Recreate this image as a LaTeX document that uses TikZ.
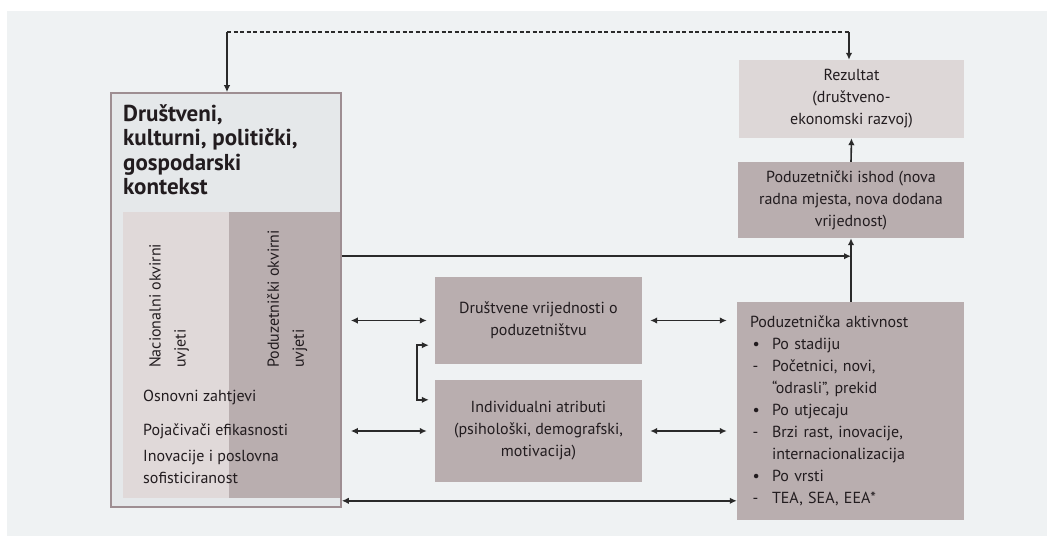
\documentclass[tikz,border=0pt]{standalone}
\usepackage{fontspec}
\setmainfont{PT Sans}
\usepackage{tikz}
\usetikzlibrary{arrows.meta,positioning,calc}
\definecolor{pozadina}{HTML}{EFF2F3}
\definecolor{kontekstboja}{HTML}{E5E8EA}
\definecolor{rub}{HTML}{9E8E92}
\definecolor{svijetla}{HTML}{E0D9D9}
\definecolor{tamna}{HTML}{B9AEAF}
\definecolor{rezultatboja}{HTML}{DDD7D7}
\definecolor{tekst}{HTML}{221C1F}
\definecolor{strelica}{HTML}{2A2A2A}

\begin{document}
\begin{tikzpicture}[x=1pt,y=-1pt,
  okvir/.style={draw=rub,line width=1.6pt,fill=kontekstboja,inner sep=0pt},
  polje/.style={inner sep=0pt,text=tekst,font=\fontsize{16}{22}\selectfont},
  kutija/.style={fill=tamna,text=tekst,align=center,inner sep=0pt,font=\fontsize{16}{22}\selectfont},
  oznaka/.style={text=tekst,inner sep=0pt,font=\fontsize{16}{22}\selectfont},
  veza/.style={draw=strelica,line width=1.6pt,-{Latex[length=7pt,width=6.5pt]}},
  dvostruka/.style={draw=strelica,line width=1.6pt,{Latex[length=7pt,width=6.5pt]}-{Latex[length=7pt,width=6.5pt]}}]
\useasboundingbox (0,0) rectangle (1047,536);
\fill[pozadina] (7,11) rectangle (1047,536);

\node[okvir,minimum width=230pt,minimum height=414pt] (kontekst) at (226,300) {};
\node[polje,fill=svijetla,minimum width=106pt,minimum height=286pt] (nacionalni) at (176,355) {};
\node[polje,fill=tamna,minimum width=111pt,minimum height=286pt] (poduzetnicki) at (284.5,355) {};
\node[oznaka,anchor=north west,align=left,font=\fontsize{23}{24.5}\selectfont\bfseries] (naslov) at (123,104)
  {Društveni,\\kulturni, politički,\\gospodarski\\kontekst};
\node[oznaka,rotate=90,anchor=north west,align=left,font=\fontsize{16}{25}\selectfont] (nacionalnitekst) at (149,368)
  {Nacionalni okvirni\\uvjeti};
\node[oznaka,rotate=90,anchor=north west,align=left,font=\fontsize{16}{25}\selectfont] (poduzetnickitekst) at (267,368)
  {Poduzetnički okvirni\\uvjeti};
\node[oznaka,anchor=base west] (osnovni) at (143,401) {Osnovni zahtjevi};
\node[oznaka,anchor=base west] (pojacivaci) at (143,435) {Pojačivači efikasnosti};
\node[oznaka,anchor=north west,align=left] (inovacije) at (143,450) {Inovacije i poslovna\\sofisticiranost};

\node[kutija,fill=rezultatboja,minimum width=225pt,minimum height=78pt] (rezultat) at (851.5,99)
  {Rezultat\\(društveno-\\ekonomski razvoj)};
\node[kutija,minimum width=226pt,minimum height=76pt] (ishod) at (851,200)
  {Poduzetnički ishod (nova\\radna mjesta, nova dodana\\vrijednost)};
\node[kutija,align=left,text width=201pt,minimum width=227pt,minimum height=218pt,inner xsep=13pt] (aktivnost) at (850.5,411)
  {Poduzetnička aktivnost\\
   \makebox[22pt][l]{\,•}Po stadiju\\
   \makebox[22pt][l]{\,-}Početnici, novi,\\
   \hspace*{22pt}“odrasli”, prekid\\
   \makebox[22pt][l]{\,•}Po utjecaju\\
   \makebox[22pt][l]{\,-}Brzi rast, inovacije,\\
   \hspace*{22pt}internacionalizacija\\
   \makebox[22pt][l]{\,•}Po vrsti\\
   \makebox[22pt][l]{\,-}TEA, SEA, EEA*};

\node[kutija,minimum width=207pt,minimum height=87pt] (vrijednosti) at (538.5,320.5)
  {Društvene vrijednosti o\\poduzetništvu};
\node[kutija,minimum width=207pt,minimum height=102pt] (atributi) at (538.5,431)
  {Individualni atributi\\(psihološki, demografski,\\motivacija)};

\coordinate (lijevo) at (227,32);
\coordinate (desno) at (849,32);
\draw[strelica,line width=1.6pt,dash pattern=on 4pt off 2.5pt] (lijevo) -- (desno);
\draw[veza] (lijevo) -- (lijevo |- kontekst.north);
\draw[veza] (desno) -- (desno |- rezultat.north);

\draw[veza] (ishod.north) -- (rezultat.south);
\draw[veza] (aktivnost.north -| ishod.south) -- (ishod.south);
\draw[veza] ([yshift=-164pt]kontekst.north east) coordinate (spoj) -- (spoj -| ishod.south);

\draw[dvostruka,shorten <=9pt,shorten >=8pt] (kontekst.east |- vrijednosti) -- (vrijednosti.west);
\draw[dvostruka,shorten <=9pt,shorten >=8pt] (kontekst.east |- atributi) -- (atributi.west);
\draw[dvostruka,shorten <=8pt,shorten >=10pt] (vrijednosti.east) -- (aktivnost.west |- vrijednosti);
\draw[dvostruka,shorten <=8pt,shorten >=10pt] (atributi.east) -- (aktivnost.west |- atributi);
\draw[dvostruka,shorten <=6pt,shorten >=6pt] ([yshift=19pt]vrijednosti.south west) -- ++(-18,0) |- ([yshift=-20pt]atributi.north west);
\draw[dvostruka] ([yshift=7pt]kontekst.south east) coordinate (dno) -- (dno -| aktivnost.west);
\end{tikzpicture}
\end{document}
